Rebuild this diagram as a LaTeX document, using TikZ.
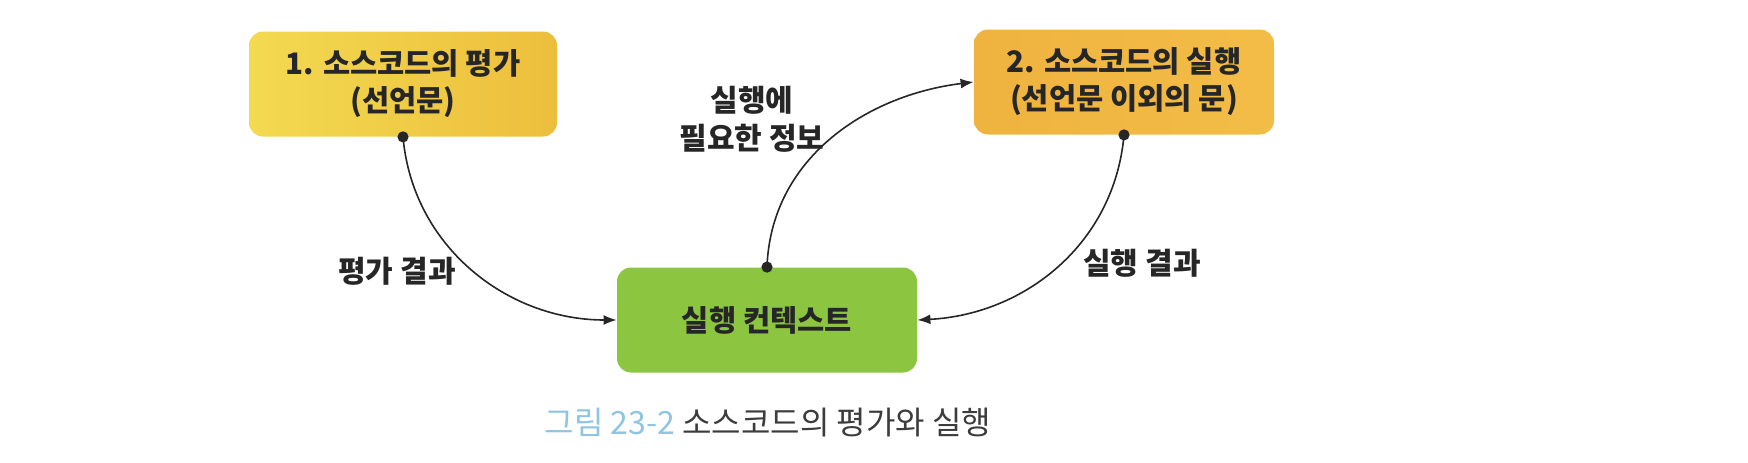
\documentclass[tikz,border=0pt]{standalone}
\usepackage{fontspec}
\setmainfont{Noto Sans CJK KR}
\usetikzlibrary{arrows.meta}

\definecolor{srcyellow}{HTML}{F3DA50}
\definecolor{srcamber}{HTML}{EDBE3D}
\definecolor{runorange}{HTML}{EFB33F}
\definecolor{runlight}{HTML}{F2BD47}
\definecolor{ctxgreen}{HTML}{8CC540}
\definecolor{capblue}{HTML}{8FC4E2}
\definecolor{ink}{HTML}{262626}

\tikzset{
  box/.style={rounded corners=7pt, minimum width=150pt, minimum height=52.5pt,
    align=center, text=ink, font=\bfseries\fontsize{14.8}{18.5}\selectfont},
  flow/.style={draw=ink, line width=0.8pt, -{Latex[length=6.5pt,width=5pt]}},
  lbl/.style={text=ink, align=center, font=\bfseries\fontsize{15}{19}\selectfont},
  dot/.style={fill=ink}
}

\begin{document}
\begin{tikzpicture}[x=0.5pt, y=0.5pt]
  \useasboundingbox (0,0) rectangle (1748,462);

  \node[box, minimum width=154pt, left color=srcyellow, right color=srcamber] (src) at (403,378)
    {1. 소스코드의 평가\\(선언문)};
  \node[box, left color=runorange, right color=runlight] (run) at (1124,380)
    {2. 소스코드의 실행\\(선언문 이외의 문)};
  \node[box, fill=ctxgreen] (ctx) at (767,142) {실행 컨텍스트};

  \draw[flow] (src.south) to[out=-85, in=180] (ctx.west);
  \draw[flow] (ctx.north) to[out=88, in=187] (run.west);
  \draw[flow] (run.south) to[out=-95, in=3] (ctx.east);
  \fill[dot] (src.south) circle (2.8pt);
  \fill[dot] (ctx.north) circle (2.8pt);
  \fill[dot] (run.south) circle (2.8pt);

  \node[lbl] (evalres) at (397,191) {평가 결과};
  \node[lbl] (needinfo) at (752,343) {실행에\\필요한 정보};
  \node[lbl] (runres) at (1142,199) {실행 결과};

  \node[font=\fontsize{16}{18}\selectfont, text=ink!90] (caption) at (768,39)
    {{\color{capblue}그림 23-2} 소스코드의 평가와 실행};
\end{tikzpicture}
\end{document}
